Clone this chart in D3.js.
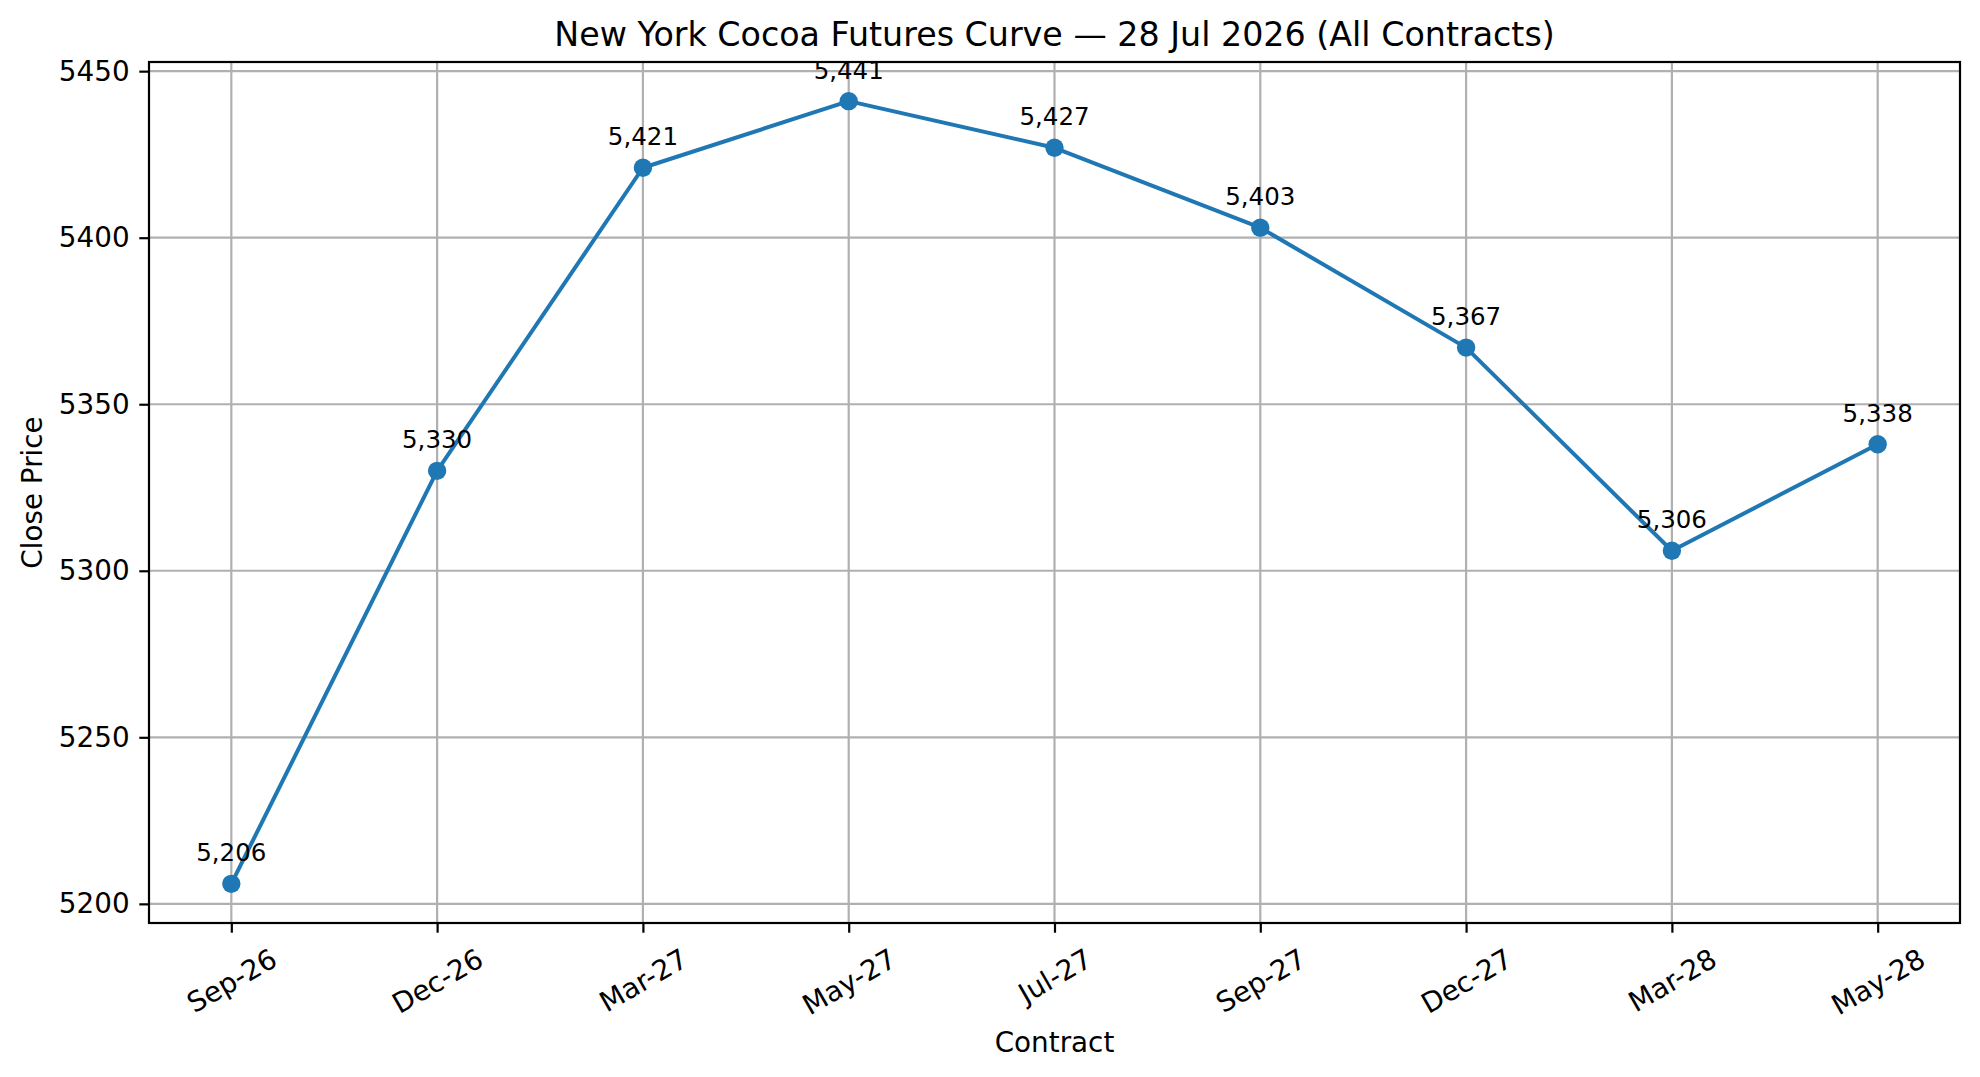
<!DOCTYPE html>
<html>
<head>
<meta charset="utf-8">
<script src="https://cdn.jsdelivr.net/npm/d3@7"></script>
<style>
  body { margin: 0; background: #fff; overflow: hidden; }
  svg { display: block; }
  text { font-family: "DejaVu Sans", sans-serif; fill: #000; }
</style>
</head>
<body>
<div id="chart"></div>
<script>
// contracts on the curve and their closing prices
let contracts = ["Sep-26", "Dec-26", "Mar-27", "May-27", "Jul-27", "Sep-27", "Dec-27", "Mar-28", "May-28"];
let closes = [5206, 5330, 5421, 5441, 5427, 5403, 5367, 5306, 5338];
let yTicks = [5200, 5250, 5300, 5350, 5400, 5450];

let width = 1980;
let height = 1077;
let margin = {top: 62, right: 20, bottom: 154, left: 149};
let innerWidth = width - margin.left - margin.right;
let innerHeight = height - margin.top - margin.bottom;
let blue = "#1f77b4";
let grid = "#b0b0b0";
let tickFont = 27.8;

let svg = d3.select("#chart").append("svg")
    .attr("width", width)
    .attr("height", height);

let g = svg.append("g").attr("transform", `translate(${margin.left}, ${margin.top})`);

// matplotlib-like 5% padding on both axes
let n = contracts.length;
let xScale = d3.scaleLinear()
    .domain([-0.05 * (n - 1), (n - 1) * 1.05])
    .range([0, innerWidth]);

let [lo, hi] = d3.extent(closes);
let pad = (hi - lo) * 0.05;
let yScale = d3.scaleLinear()
    .domain([lo - pad, hi + pad])
    .range([innerHeight, 0]);

// grid
g.append("g").selectAll("line").data(contracts).enter().append("line")
    .attr("x1", (d, i) => xScale(i)).attr("x2", (d, i) => xScale(i))
    .attr("y1", 0).attr("y2", innerHeight)
    .attr("stroke", grid).attr("stroke-width", 2.2);
g.append("g").selectAll("line").data(yTicks).enter().append("line")
    .attr("x1", 0).attr("x2", innerWidth)
    .attr("y1", d => yScale(d)).attr("y2", d => yScale(d))
    .attr("stroke", grid).attr("stroke-width", 2.2);

// axes
let yAxis = g.append("g")
    .call(d3.axisLeft(yScale).tickValues(yTicks).tickFormat(d3.format("d")).tickSize(9.7).tickPadding(9.7));
yAxis.select(".domain").remove();
yAxis.selectAll("line").attr("stroke-width", 2.2);
yAxis.selectAll("text").style("font-size", tickFont + "px").style("font-family", "DejaVu Sans");

let xAxis = g.append("g")
    .attr("transform", `translate(0, ${innerHeight})`)
    .call(d3.axisBottom(xScale).tickValues(d3.range(n)).tickFormat(i => contracts[i]).tickSize(9.7));
xAxis.select(".domain").remove();
xAxis.selectAll("line").attr("stroke-width", 2.2);
xAxis.selectAll("text")
    .style("font-size", tickFont + "px").style("font-family", "DejaVu Sans")
    .attr("text-anchor", "middle")
    .attr("dy", "0.35em")
    .each(function () {
        // centre the rotated label's box under its tick, as matplotlib does
        let w = this.getComputedTextLength();
        let bh = w * 0.5 + tickFont * 1.15 * 0.866;
        let cy = 9.7 + 9.7 + bh / 2;
        d3.select(this).attr("y", cy).attr("transform", `rotate(-30, 0, ${cy})`);
    });

// frame
g.append("rect")
    .attr("width", innerWidth).attr("height", innerHeight)
    .attr("fill", "none").attr("stroke", "#000").attr("stroke-width", 2.2);

// the curve
let line = d3.line().x((d, i) => xScale(i)).y(d => yScale(d));
g.append("path").datum(closes)
    .attr("d", line)
    .attr("fill", "none").attr("stroke", blue).attr("stroke-width", 4)
    .attr("stroke-linejoin", "round");

g.selectAll(".dot").data(closes).enter().append("circle")
    .attr("cx", (d, i) => xScale(i)).attr("cy", d => yScale(d))
    .attr("r", 9.2).attr("fill", blue);

g.selectAll(".lbl").data(closes).enter().append("text")
    .attr("x", (d, i) => xScale(i)).attr("y", d => yScale(d) - 22.5)
    .attr("text-anchor", "middle")
    .style("font-size", "24.5px")
    .text(d => d3.format(",")(d));

// titles
svg.append("text")
    .attr("x", margin.left + innerWidth / 2).attr("y", 46)
    .attr("text-anchor", "middle")
    .style("font-size", "33.3px")
    .text("New York Cocoa Futures Curve — 28 Jul 2026 (All Contracts)");

svg.append("text")
    .attr("x", margin.left + innerWidth / 2).attr("y", 1052)
    .attr("text-anchor", "middle")
    .style("font-size", "27.8px")
    .text("Contract");

svg.append("text")
    .attr("transform", `translate(42, ${margin.top + innerHeight / 2}) rotate(-90)`)
    .attr("text-anchor", "middle")
    .style("font-size", "27.8px")
    .text("Close Price");
</script>
</body>
</html>
